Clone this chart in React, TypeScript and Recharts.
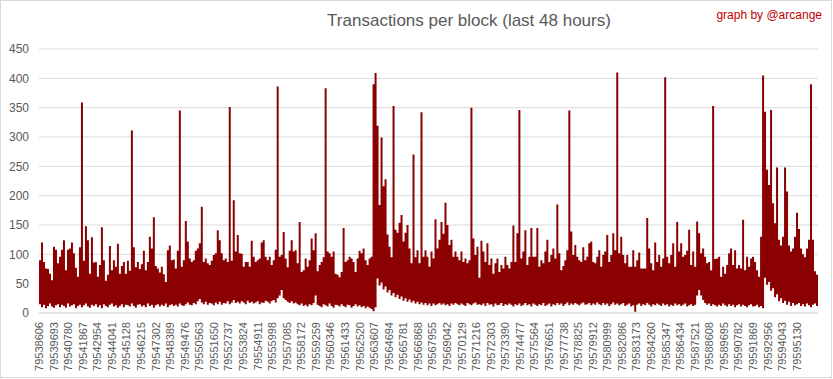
import React from "react";
import { ComposedChart, Area, XAxis, YAxis, CartesianGrid } from "recharts";

// each column of the chart covers ~149 blocks (2px wide)
const firstBlock = 79538606;
const blocksPerColumn = 149;

const blockLabels = [
  79538606, 79539693, 79540780, 79541867, 79542954, 79544041, 79545128, 79546215, 79547302,
  79548389, 79549476, 79550563, 79551650, 79552737, 79553824, 79554911, 79555998, 79557085,
  79558172, 79559259, 79560346, 79561433, 79562520, 79563607, 79564694, 79565781, 79566868,
  79567955, 79569042, 79570129, 79571216, 79572303, 79573390, 79574477, 79575564, 79576651,
  79577738, 79578825, 79579912, 79580999, 79582086, 79583173, 79584260, 79585347, 79586434,
  79587521, 79588608, 79589695, 79590782, 79591869, 79592956, 79594043, 79595130,
];

const yTicks = [0, 50, 100, 150, 200, 250, 300, 350, 400, 450];

// highest tx count per column
const peakTx = [
  90, 120, 87, 76, 75, 67, 56, 113, 108, 85,
  96, 108, 124, 73, 108, 110, 120, 102, 77, 62,
  112, 359, 89, 148, 124, 67, 129, 86, 87, 62,
  82, 146, 90, 55, 65, 114, 73, 90, 79, 118,
  67, 80, 87, 67, 89, 72, 311, 112, 78, 87,
  75, 83, 106, 73, 87, 130, 110, 163, 80, 76,
  69, 79, 66, 53, 107, 115, 90, 91, 76, 106,
  345, 79, 90, 157, 122, 93, 87, 90, 106, 110,
  119, 181, 87, 93, 85, 82, 89, 99, 102, 141,
  124, 102, 90, 93, 87, 351, 89, 192, 105, 133,
  102, 101, 79, 87, 87, 79, 123, 96, 87, 90,
  93, 120, 124, 96, 90, 96, 82, 90, 108, 386,
  96, 99, 138, 93, 78, 106, 124, 105, 107, 85,
  155, 70, 73, 93, 79, 90, 127, 107, 136, 71,
  82, 87, 95, 383, 105, 102, 96, 105, 67, 65,
  61, 70, 145, 87, 90, 96, 93, 87, 70, 93,
  106, 102, 110, 90, 82, 93, 96, 390, 409, 319,
  184, 299, 216, 228, 134, 113, 95, 353, 142, 137,
  154, 167, 122, 137, 150, 110, 85, 270, 95, 107,
  85, 342, 96, 107, 96, 79, 105, 93, 160, 110,
  125, 155, 135, 188, 150, 116, 125, 96, 105, 96,
  90, 105, 87, 93, 85, 90, 350, 127, 99, 113,
  60, 123, 105, 87, 119, 82, 93, 67, 85, 93,
  70, 82, 76, 96, 82, 76, 87, 149, 87, 136,
  346, 93, 105, 141, 82, 96, 145, 96, 96, 145,
  79, 90, 85, 105, 125, 87, 99, 110, 93, 185,
  102, 73, 80, 90, 107, 345, 139, 99, 116, 96,
  90, 87, 112, 90, 96, 119, 122, 87, 85, 96,
  107, 79, 99, 105, 133, 87, 99, 136, 107, 410,
  102, 130, 99, 85, 99, 79, 79, 107, 79, 90,
  103, 76, 76, 76, 162, 110, 85, 73, 120, 87,
  99, 79, 93, 402, 96, 85, 99, 119, 79, 155,
  105, 119, 96, 99, 106, 142, 82, 105, 79, 156,
  136, 102, 110, 96, 85, 87, 73, 353, 92, 93,
  96, 62, 79, 67, 82, 102, 110, 82, 107, 76,
  82, 76, 159, 73, 96, 79, 93, 96, 87, 73,
  62, 130, 405, 343, 244, 218, 346, 187, 153, 248,
  125, 115, 130, 248, 207, 115, 105, 110, 130, 171,
  143, 110, 100, 95, 110, 125, 390, 125, 71, 65,
];

// lowest tx count per column
const lowTx = [
  15, 10, 14, 8, 12, 16, 11, 9, 13, 15,
  10, 14, 12, 9, 16, 11, 13, 15, 8, 12,
  14, 10, 13, 16, 11, 9, 14, 12, 15, 10,
  13, 8, 15, 12, 10, 14, 16, 11, 13, 9,
  12, 15, 10, 14, 13, 11, 16, 12, 9, 14,
  15, 11, 13, 10, 16, 12, 14, 9, 13, 15,
  11, 14, 12, 16, 10, 13, 15, 12, 14, 11,
  16, 13, 12, 15, 18, 14, 13, 17, 15, 20,
  24, 18, 15, 19, 14, 17, 16, 13, 18, 15,
  19, 14, 17, 16, 20, 15, 18, 22, 17, 19,
  16, 20, 18, 15, 21, 17, 19, 16, 18, 20,
  15, 18, 17, 21, 19, 16, 20, 22, 18, 25,
  30, 39, 25, 22, 19, 17, 20, 16, 18, 15,
  13, 16, 12, 14, 11, 15, 13, 17, 30, 14,
  12, 10, 15, 13, 11, 16, 12, 9, 14, 13,
  11, 15, 12, 10, 14, 13, 9, 12, 15, 11,
  13, 10, 12, 8, 11, 9, 7, 3, 10, 59,
  47, 52, 40, 45, 35, 39, 30, 34, 27, 31,
  24, 28, 21, 25, 19, 23, 18, 21, 16, 19,
  15, 18, 14, 17, 13, 16, 12, 16, 13, 15,
  17, 14, 16, 13, 15, 12, 16, 14, 17, 15,
  13, 16, 14, 12, 17, 15, 13, 16, 18, 14,
  15, 13, 16, 12, 17, 14, 15, 11, 16, 13,
  14, 17, 12, 15, 13, 16, 14, 11, 15, 13,
  16, 12, 14, 17, 13, 15, 11, 16, 14, 12,
  15, 13, 17, 12, 14, 16, 11, 15, 13, 17,
  14, 16, 12, 15, 18, 13, 16, 14, 17, 15,
  13, 16, 18, 14, 15, 17, 13, 16, 14, 18,
  15, 13, 17, 14, 16, 12, 15, 18, 14, 16,
  13, 15, 17, 12, 14, 16, 11, 13, 2, 14,
  16, 12, 15, 13, 17, 14, 11, 15, 13, 16,
  14, 12, 16, 13, 15, 11, 14, 12, 16, 13,
  15, 12, 14, 16, 11, 13, 15, 12, 14, 30,
  39, 30, 22, 17, 14, 16, 12, 15, 13, 11,
  14, 12, 16, 13, 11, 15, 12, 14, 10, 13,
  15, 11, 14, 12, 10, 13, 15, 11, 12, 14,
  10, 12, 8, 60, 48, 53, 38, 42, 27, 32,
  20, 25, 17, 21, 14, 19, 12, 17, 13, 15,
  17, 12, 15, 11, 16, 13, 10, 14, 16, 12,
];

const data = peakTx.map((hi, i) => ({
  block: firstBlock + i * blocksPerColumn,
  range: [lowTx[i], hi],
}));
// closing point so the last step column gets its width
data.push({
  block: firstBlock + peakTx.length * blocksPerColumn,
  range: [lowTx[lowTx.length - 1], peakTx[peakTx.length - 1]],
});

const FONT = "'Liberation Sans', Arial, sans-serif";
const GREY = "#595959";

const BlockTick = ({ x, y, payload }: any) => (
  <g transform={`translate(${x},${y})`}>
    <text
      transform="rotate(-90)"
      x={-9}
      y={0}
      dy="0.36em"
      textAnchor="end"
      fill={GREY}
      fontSize={11}
      fontFamily={FONT}
    >
      {payload.value}
    </text>
  </g>
);

export default function App() {
  return (
    <div style={{ position: "absolute", left: 0, top: 0, width: 833, height: 379, background: "#fff" }}>
      <ComposedChart
        width={833}
        height={379}
        data={data}
        margin={{ top: 49, right: 15, bottom: 0, left: 0 }}
      >
        <CartesianGrid vertical={false} stroke="#d9d9d9" />
        <XAxis
          dataKey="block"
          type="number"
          domain={[firstBlock, firstBlock + peakTx.length * blocksPerColumn]}
          ticks={blockLabels}
          interval={0}
          height={66}
          tickLine={false}
          tickSize={0}
          tickMargin={0}
          axisLine={{ stroke: "#d9d9d9" }}
          tick={(props: any) => <BlockTick {...props} />}
        />
        <YAxis
          width={39}
          domain={[0, 450]}
          ticks={yTicks}
          interval={0}
          axisLine={false}
          tickLine={false}
          tickSize={0}
          tickMargin={10}
          tick={{ fill: GREY, fontSize: 12, fontFamily: FONT }}
        />
        <Area
          type="stepAfter"
          dataKey="range"
          fill="#8B0000"
          fillOpacity={1}
          stroke="none"
          dot={false}
          activeDot={false}
          isAnimationActive={false}
        />
      </ComposedChart>
      <svg
        width={833}
        height={379}
        style={{ position: "absolute", left: 0, top: 0, pointerEvents: "none" }}
      >
        <rect x={0.5} y={0.5} width={831} height={377} fill="none" stroke="#d9d9d9" />
        <text x={469} y={26} textAnchor="middle" fill={GREY} fontSize={17} fontFamily={FONT}>
          Transactions per block (last 48 hours)
        </text>
        <text x={822} y={19} textAnchor="end" fill="#C00000" fontSize={12} fontFamily={FONT}>
          graph by @arcange
        </text>
      </svg>
    </div>
  );
}
